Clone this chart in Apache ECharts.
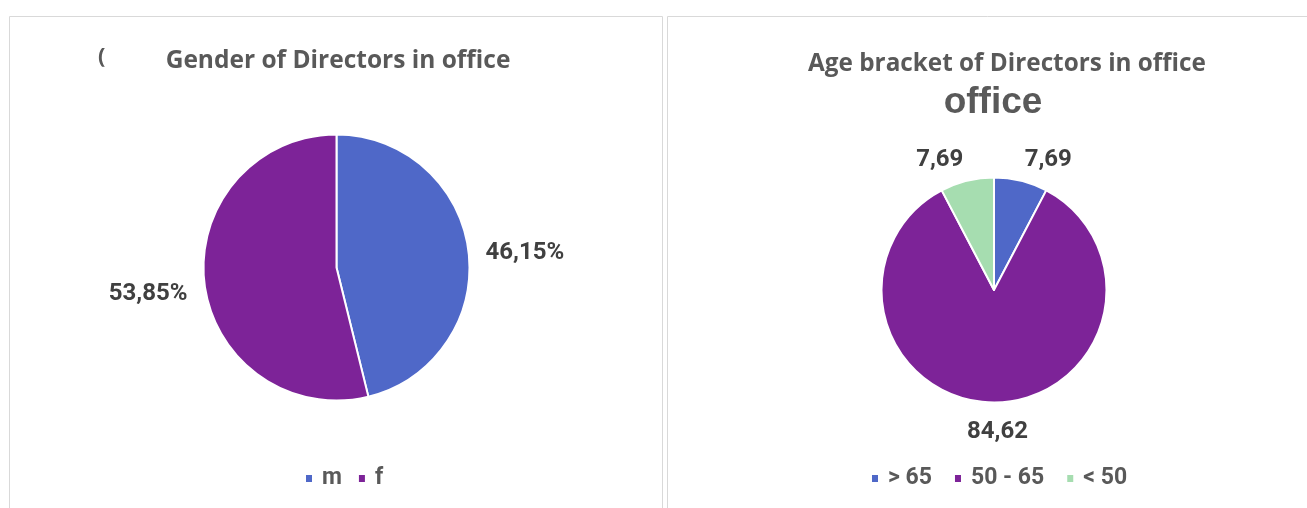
<!DOCTYPE html>
<html>
<head>
<meta charset="utf-8">
<script src="https://cdn.jsdelivr.net/npm/echarts@6/dist/echarts.min.js"></script>
<style>
  html, body { margin: 0; padding: 0; background: #fff; }
  #chart { width: 1307px; height: 508px; }
</style>
</head>
<body>
<div id="chart"></div>
<script>
// gender pie
const genderNames = ['m', 'f'];
const genderValues = [46.15, 53.85];
// age bracket pie
const ageNames = ['> 65', '50 - 65', '< 50'];
const ageValues = [7.69, 84.62, 7.69];

const colors = ['#4f68c8', '#7d2398', '#a6ddb0'];
const labelFont = { fontFamily: 'Roboto', fontWeight: 'bold', fontSize: 24, color: '#404040' };
const legendFont = { fontFamily: 'Roboto', fontWeight: 'bold', fontSize: 23, color: '#595959', padding: [0, 0, 0, 4] };

function comma(v) {
  return v.toFixed(2).replace('.', ',');
}

const chart = echarts.init(document.getElementById('chart'));

// label line lengths per slice (lines hidden, only used to place the text) + nudges
const genderLabel = [
  { len: 10, len2: 3, dist: 4, dx: 0, dy: 3 },
  { len: 10, len2: 3, dist: 4, dx: 0, dy: 9 }
];
const ageLabel = [
  { len: 24, len2: 0, dist: -2, dx: 0, dy: 3 },
  { len: 26, len2: 0, dist: -30, dx: 3, dy: 3 },
  { len: 24, len2: 0, dist: -2, dx: 0, dy: 3 }
];

function sliceData(names, values, cfg) {
  return names.map((n, i) => ({
    name: n,
    value: values[i],
    itemStyle: { color: colors[i] },
    label: { distanceToLabelLine: cfg[i].dist },
    labelLine: { length: cfg[i].len, length2: cfg[i].len2 }
  }));
}

const option = {
  animation: false,
  color: colors,
  title: [
    {
      text: 'Gender of Directors in office',
      left: 338, top: 49, padding: 0, textAlign: 'center',
      textStyle: { fontFamily: 'Open Sans', fontWeight: 'bold', fontSize: 24.5, color: '#595959' }
    },
    {
      text: 'Age bracket of Directors in office',
      left: 1007, top: 52, padding: 0, textAlign: 'center',
      textStyle: { fontFamily: 'Open Sans', fontWeight: 'bold', fontSize: 24.3, color: '#595959' }
    },
    {
      text: 'office',
      left: 993, top: 84, padding: 0, textAlign: 'center',
      textStyle: { fontFamily: 'Liberation Sans', fontWeight: 'bold', fontSize: 37, color: '#595959' }
    },
    {
      text: '(',
      left: 98, top: 46, padding: 0,
      textStyle: { fontFamily: 'Open Sans', fontWeight: 'bold', fontSize: 22, color: '#595959' }
    }
  ],
  legend: [
    {
      data: genderNames,
      left: 304, top: 467, padding: 0,
      icon: 'rect', itemWidth: 8, itemHeight: 9, itemGap: 15,
      textStyle: legendFont,
      selectedMode: false
    },
    {
      data: ageNames,
      left: 870, top: 467, padding: 0,
      icon: 'rect', itemWidth: 8, itemHeight: 9, itemGap: 21,
      textStyle: legendFont,
      selectedMode: false
    }
  ],
  graphic: [
    { type: 'rect', shape: { x: 9.5, y: 16.5, width: 653, height: 520 }, style: { fill: 'none', stroke: '#d9d9d9', lineWidth: 1 }, silent: true },
    { type: 'rect', shape: { x: 667.5, y: 16.5, width: 700, height: 520 }, style: { fill: 'none', stroke: '#d9d9d9', lineWidth: 1 }, silent: true }
  ],
  series: [
    {
      type: 'pie',
      center: [336.5, 267.5],
      radius: 133,
      startAngle: 90,
      avoidLabelOverlap: false,
      silent: true,
      itemStyle: { borderColor: '#fff', borderWidth: 2 },
      label: Object.assign({ position: 'outside', formatter: p => comma(p.value) + '%' }, labelFont),
      labelLine: { show: false },
      labelLayout: p => ({ dx: genderLabel[p.dataIndex].dx, dy: genderLabel[p.dataIndex].dy }),
      data: sliceData(genderNames, genderValues, genderLabel)
    },
    {
      type: 'pie',
      center: [994, 290],
      radius: 112.5,
      startAngle: 90,
      avoidLabelOverlap: false,
      silent: true,
      itemStyle: { borderColor: '#fff', borderWidth: 2 },
      label: Object.assign({ position: 'outside', formatter: p => comma(p.value) }, labelFont),
      labelLine: { show: false },
      labelLayout: p => ({ dx: ageLabel[p.dataIndex].dx, dy: ageLabel[p.dataIndex].dy }),
      data: sliceData(ageNames, ageValues, ageLabel)
    }
  ]
};

chart.setOption(option);
</script>
</body>
</html>
